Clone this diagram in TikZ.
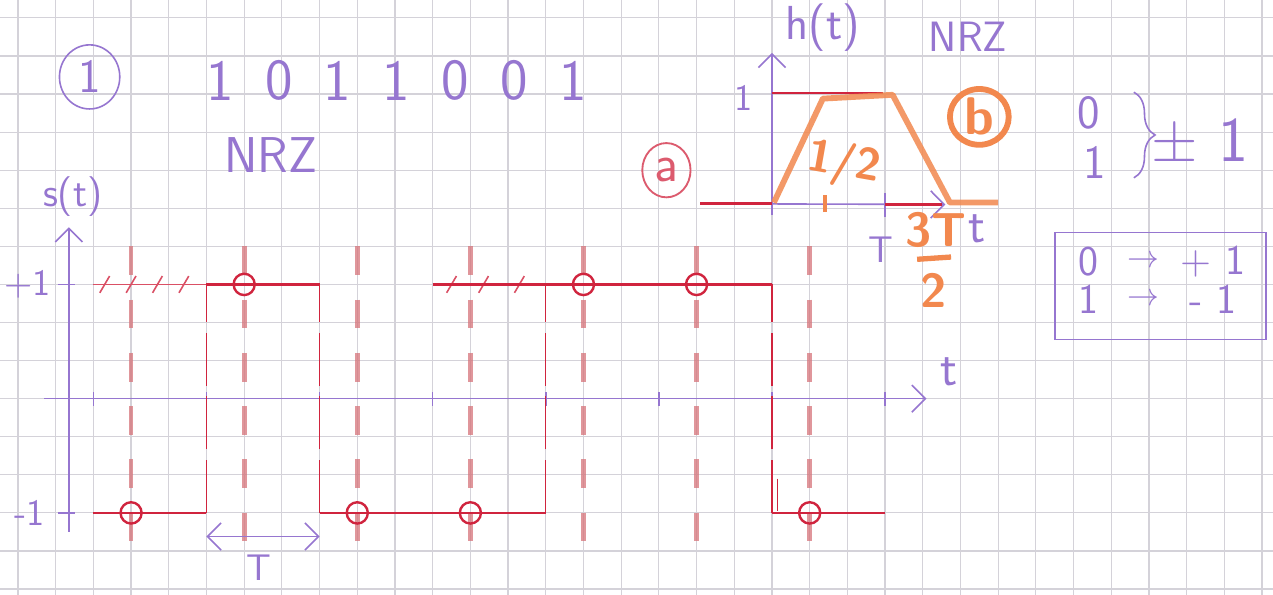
\documentclass[tikz,border=0pt]{standalone}
\usepackage{fontspec}
\usetikzlibrary{arrows.meta,shapes.geometric,decorations.pathreplacing}
\renewcommand{\familydefault}{\sfdefault}
\definecolor{inkpurple}{RGB}{150,118,208}
\definecolor{inkred}{RGB}{208,36,62}
\definecolor{pencilred}{RGB}{214,116,122}
\definecolor{inkorange}{RGB}{242,136,78}
\definecolor{gridgray}{RGB}{212,210,217}
\newcommand{\handsize}[1]{\fontsize{#1}{#1}\selectfont}

\begin{document}
\begin{tikzpicture}[x=0.5cm,y=0.505cm, every node/.style={text=inkpurple,inner sep=0pt},
  pen/.style={draw=inkpurple,line width=0.6pt},
  barb/.style={-{Straight Barb[length=1.8mm,width=3.6mm]}},
  sample/.style={draw=pencilred,line width=1.8pt,opacity=0.75,dash pattern=on 10.8pt off 9.3pt},
  jump/.style={draw=inkred,line width=0.5pt,dash pattern=on 20pt off 4pt},
  level/.style={draw=inkred,line width=0.9pt},
  hit/.style={draw=inkred,line width=0.9pt}]
  % paper
  \useasboundingbox (-0.477,-0.144) rectangle (33.29,15.47);
  \fill[white] (-0.477,-0.144) rectangle (33.29,15.47);
  \begin{scope}
    \clip (-0.477,-0.144) rectangle (33.29,15.47);
    \draw[gridgray,line width=0.45pt,xstep=0.5cm,ystep=0.505cm] (-1,-1) grid (34,16);
  \end{scope}

  % heading
  \node[draw=inkpurple,ellipse,line width=0.6pt,minimum width=0.8cm,minimum height=0.85cm,font=\handsize{18}] (ex) at (1.9,13.45) {1};
  \foreach \b [count=\i] in {1,0,1,1,0,0,1}
    \node[font=\handsize{22}] (bit\i) at ({3.8+1.56*\i},13.35) {\b};
  \node[font=\handsize{19}] (code) at (6.7,11.4) {NRZ};

  % signal s(t)
  \coordinate (t0) at (0.7,5);
  \coordinate (t1) at (24.1,5);
  \coordinate (s0) at (1.35,1.5);
  \coordinate (s1) at (1.35,9.5);
  \draw[pen,barb] (t0) -- (t1);
  \draw[pen,barb] (s0) -- (s1);
  \foreach \x in {2,5,...,23}
    \draw[pen] (\x,4.82) -- (\x,5.18);
  \draw[pen] (1.05,8) -- (1.5,8);
  \draw[pen] (1.05,2) -- (1.5,2);
  \node[font=\handsize{15}] (slab) at (1.45,10.3) {s(t)};
  \node[font=\handsize{14}] (pone) at (0.25,8) {+1};
  \node[font=\handsize{14}] (mone) at (0.3,2) {-1};
  \node[font=\handsize{19}] (tlab) at (24.7,5.7) {t};

  % sampling instants
  \foreach \x in {3,6,...,21}
    \draw[sample] (\x,9) -- (\x,1.1);
  % transitions
  \foreach \x in {5,8,14,20}
    \draw[jump] (\x,2) -- (\x,8);
  \draw[jump] (20.15,2.9) -- (20.15,2.05);
  % crossed-out levels
  \draw[inkred!80,line width=0.6pt] (2,8) -- (5,8);
  \foreach \x in {2.3,3,3.7,4.4,11.5,12.35,13.3}
    \draw[inkred!80,line width=0.6pt] (\x-0.13,7.78) -- (\x+0.13,8.22);
  % levels
  \draw[level] (2,2) -- (5,2);
  \draw[level] (5,8) -- (8,8);
  \draw[level] (8,2) -- (14,2);
  \draw[level] (11,8) -- (20,8);
  \draw[level] (20,2) -- (23,2);
  \foreach \x/\y in {3/2,6/8,9/2,12/2,15/8,18/8,21/2}
    \draw[hit] (\x,\y) circle[radius=0.28];
  % bit period
  \coordinate (ta) at (5,1.38);
  \coordinate (tb) at (8,1.38);
  \draw[pen,{Straight Barb[length=1.8mm,width=3.6mm]}-{Straight Barb[length=1.8mm,width=3.6mm]}] (ta) -- (tb);
  \node[font=\handsize{14}] (Tlab) at (6.4,0.55) {T};

  % pulse h(t)
  \coordinate (h0) at (18.1,10.12);
  \coordinate (h1) at (24.6,10.1);
  \coordinate (v0) at (20,9.83);
  \coordinate (v1) at (20,14.08);
  \draw[pen,barb] (h0) -- (h1);
  \draw[pen,barb] (v0) -- (v1);
  \draw[pen] (23,9.77) -- (23,10.4);
  \draw[inkred,line width=1pt] (h0) -- (20,10.12);
  \draw[inkred,line width=1pt] (20,13.03) -- (22.95,13.03);
  \draw[inkred,line width=1pt] (23,10.1) -- (24.5,10.1);
  \draw[inkorange,line width=2.2pt,opacity=0.85,line join=round] (20.05,10.15) -- (21.35,12.88) -- (23.2,12.98) -- (24.72,10.15) -- (26,10.15);
  \draw[inkorange,line width=1.5pt] (21.4,9.9) -- (21.4,10.35);
  \node[font=\handsize{18}] (hlab) at (21.35,14.74) {h(t)};
  \node[font=\handsize{16}] (code2) at (25.2,14.5) {NRZ};
  \node[font=\handsize{14}] (hone) at (19.25,12.9) {1};
  \node[font=\handsize{14}] (hT) at (22.9,8.9) {T};
  \node[font=\handsize{19}] (htl) at (25.45,9.45) {t};
  \node[text=inkorange,font=\bfseries\handsize{17},rotate=-10] (half) at (21.9,11.15) {1/2};
  \node[text=inkorange,font=\bfseries\handsize{18}] (thr) at (24.35,9.42) {3T};
  \draw[inkorange,line width=2pt] (23.85,8.66) -- (24.75,8.72);
  \node[text=inkorange,font=\bfseries\handsize{18}] (thrd) at (24.3,7.85) {2};
  \node[ellipse,draw=inkred!75,line width=0.7pt,minimum width=0.64cm,minimum height=0.72cm,text=inkred!75,font=\handsize{20}] (pa) at (17.2,11) {a};
  \node[ellipse,draw=inkorange,line width=2.2pt,minimum width=0.78cm,minimum height=0.74cm,text=inkorange,font=\bfseries\handsize{20}] (pb) at (25.5,12.4) {b};

  % mapping
  \node[font=\handsize{18}] (zero) at (28.4,12.5) {0};
  \node[font=\handsize{18}] (one) at (28.55,11.2) {1};
  \draw[pen,decorate,decoration={brace,amplitude=8pt}] (29.6,13.05) -- (29.6,10.8);
  \node[font=\handsize{24}] (pm) at (31.35,11.8) {± 1};
  \node[draw=inkpurple,line width=0.6pt,minimum width=2.8cm,minimum height=1.42cm] (map) at (30.3,7.96) {};
  \node[font=\handsize{16}] (mz) at (28.4,8.6) {0};
  \node[font=\handsize{13}] (mza) at (29.85,8.6) {$\rightarrow$};
  \node[font=\handsize{16}] (mzv) at (31.7,8.6) {+ 1};
  \node[font=\handsize{16}] (mo) at (28.4,7.6) {1};
  \node[font=\handsize{13}] (moa) at (29.85,7.6) {$\rightarrow$};
  \node[font=\handsize{16}] (mov) at (31.7,7.6) {- 1};
\end{tikzpicture}
\end{document}
